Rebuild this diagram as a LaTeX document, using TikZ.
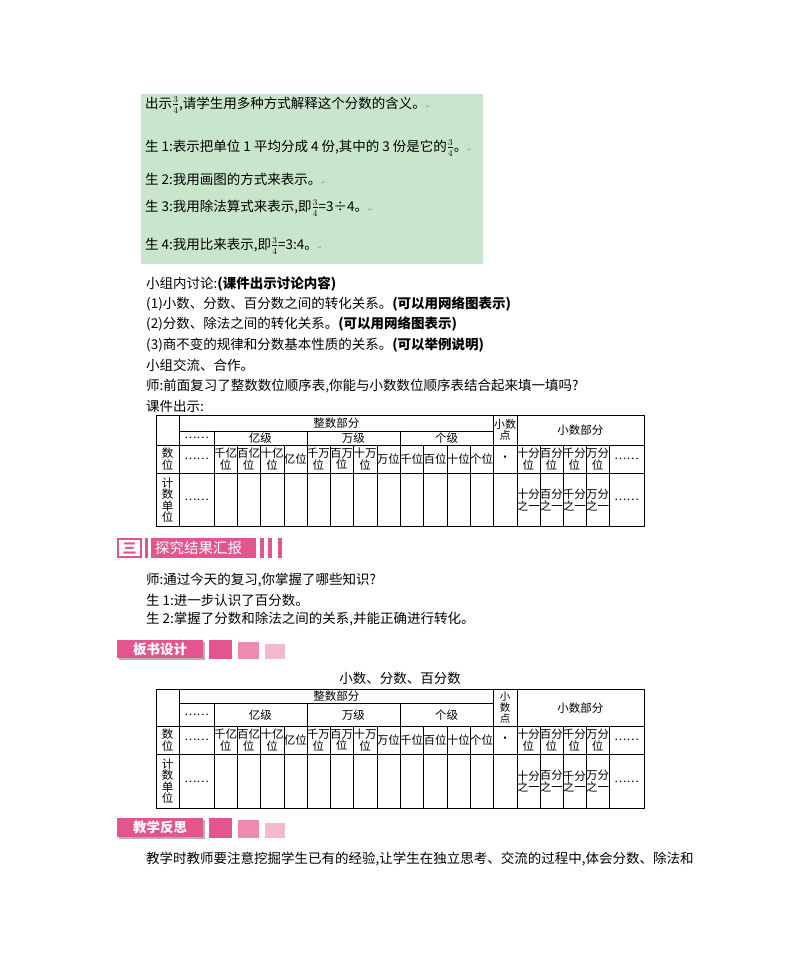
\documentclass[tikz,border=0pt]{standalone}
\usepackage{fontspec}
\setmainfont{Noto Sans CJK SC}
\newfontfamily\djfont{DejaVu Sans}
\definecolor{gbox}{HTML}{C9E5CB}
\definecolor{pk}{HTML}{E2558E}
\definecolor{pkm}{HTML}{EC8AB0}
\definecolor{pkl}{HTML}{F4B9CF}
\newcommand\pvtab[5]{%
 \draw[line width=0.8pt] (156,#1) rectangle (644,#5);
 \draw (179.3,#2) -- (493.3,#2);
 \draw (156,#3) -- (644,#3); \draw (156,#4) -- (644,#4);
 \foreach \x in {179.3,493.3,516.7} \draw (\x,#1) -- (\x,#5);
 \foreach \x in {214,306.7,400} \draw (\x,#2) -- (\x,#5);
 \foreach \x in {237.3,260,284,330,353.3,376.7,423.3,446.7,470,540,562.7,586,609.3} \draw (\x,#3) -- (\x,#5);
 \pgfmathsetmacro\ra{(#1+#2)/2}\pgfmathsetmacro\rb{(#2+#3)/2}
 \pgfmathsetmacro\rc{(#3+#4)/2}\pgfmathsetmacro\rd{(#4+#5)/2}
 \pgfmathsetmacro\rab{(#1+#3)/2}
 \node[tc] at (336.3,\ra) {整数部分};
 \node[tc] at (196.6,\rb) {……};
 \node[tc] at (260.3,\rb) {亿级};
 \node[tc] at (353.3,\rb) {万级};
 \node[tc] at (446.7,\rb) {个级};
 \node[tc] at (580.3,\rab) {小数部分};
 \node[tc] at (167.6,\rc) {数\\位};
 \node[tc] at (196.6,\rc) {……};
 \foreach \x/\t in {225.6/千亿,248.6/百亿,272/十亿,318.3/千万,341.6/百万,365/十万,528.3/十分,551.3/百分,574.3/千分,597.6/万分}
   \node[tc] at (\x,\rc) {\t\\位};
 \foreach \x/\t in {295.3/亿位,388.3/万位,411.6/千位,435/百位,458.3/十位,481.6/个位}
   \node[tc] at (\x,\rc) {\t};
 \node[tc] at (505,\rc) {·};
 \node[tc] at (626.6,\rc) {……};
 \node[tc] at (167.6,\rd) {计\\数\\单\\位};
 \node[tc] at (196.6,\rd) {……};
 \foreach \x/\t in {528.3/十分,551.3/百分,574.3/千分,597.6/万分}
   \node[tc] at (\x,\rd) {\t\\之一};
 \node[tc] at (626.6,\rd) {……};
}
\begin{document}
\begin{tikzpicture}[x=1pt,y=-1pt,
 txt/.style={anchor=west,inner sep=0,font=\fontsize{13.5}{15}\selectfont},
 gtxt/.style={anchor=west,inner sep=0,font=\fontsize{13.5}{15}\selectfont},
 tc/.style={inner sep=0,font=\fontsize{11.5}{11.5}\selectfont,align=center}]
\useasboundingbox (0,0) rectangle (800,977);
% green box
\fill[gbox] (141,94) rectangle (483,264);
\node[gtxt] (g1) at (145,105) {出示$\frac{3}{4}$,请学生用多种方式解释这个分数的含义。{\djfont\color{gray}\tiny ↵}};
\node[gtxt] (g2) at (145,148) {生 1:表示把单位 1 平均分成 4 份,其中的 3 份是它的$\frac{3}{4}$。{\djfont\color{gray}\tiny ↵}};
\node[gtxt] (g3) at (145,179) {生 2:我用画图的方式来表示。{\djfont\color{gray}\tiny ↵}};
\node[gtxt] (g4) at (145,208) {生 3:我用除法算式来表示,即$\frac{3}{4}$=3÷4。{\djfont\color{gray}\tiny ↵}};
\node[gtxt] (g5) at (145,246) {生 4:我用比来表示,即$\frac{3}{4}$=3:4。{\djfont\color{gray}\tiny ↵}};
% text lines
\node[txt] (t1) at (146,284) {小组内讨论:\textbf{(课件出示讨论内容)}};
\node[txt] (t2) at (146,304) {(1)小数、分数、百分数之间的转化关系。\textbf{(可以用网络图表示)}};
\node[txt] (t3) at (146,324) {(2)分数、除法之间的转化关系。\textbf{(可以用网络图表示)}};
\node[txt] (t4) at (146,345) {(3)商不变的规律和分数基本性质的关系。\textbf{(可以举例说明)}};
\node[txt] (t5) at (146,365) {小组交流、合作。};
\node[txt] (t6) at (146,386) {师:前面复习了整数数位顺序表,你能与小数数位顺序表结合起来填一填吗?};
\node[txt] (t7) at (146,406) {课件出示:};
\pvtab{415}{430.7}{445}{473.3}{526.7}
\node[tc,font=\fontsize{11}{10}\selectfont] at (505,430) {小数\\点};
% section header 三
\draw[pk,line width=1.5pt,fill=white] (118,539) rectangle (141,557);
\node[inner sep=0,text=pk,font=\bfseries\fontsize{14}{14}\selectfont] (san) at (129.5,548) {三};
\fill[pk] (145,538) rectangle (148,558);
\fill[pk] (151,538) rectangle (256,558);
\node[inner sep=0,text=white,font=\fontsize{14.5}{14}\selectfont,anchor=west] (h1) at (155,548) {探究结果汇报};
\foreach \x in {260,268,278} \fill[pk] (\x,538) rectangle (\x+4,558);
\node[txt] (u1) at (146,580) {师:通过今天的复习,你掌握了哪些知识?};
\node[txt] (u2) at (146,600) {生 1:进一步认识了百分数。};
\node[txt] (u3) at (146,619) {生 2:掌握了分数和除法之间的关系,并能正确进行转化。};
% 板书设计
\fill[gray!60] (119,642) rectangle (205,660);
\fill[pk] (117,640) rectangle (203,658);
\node[inner sep=0,text=white,font=\bfseries\fontsize{13.5}{13}\selectfont] (h2) at (160,649) {板书设计};
\fill[pk] (209,640) rectangle (232,659); \fill[pkm] (238,642) rectangle (259,659); \fill[pkl] (265,644) rectangle (285,659);
\node[inner sep=0,font=\fontsize{13.5}{13}\selectfont] (ttl) at (400,678) {小数、分数、百分数};
\pvtab{689.3}{703.3}{726}{754}{808.7}
\node[tc,font=\fontsize{10.5}{11}\selectfont] at (505,707.6) {小\\数\\点};
% 教学反思
\fill[gray!60] (119,820) rectangle (205,839);
\fill[pk] (117,818) rectangle (203,837);
\node[inner sep=0,text=white,font=\bfseries\fontsize{13.5}{13}\selectfont] (h3) at (160,827.5) {教学反思};
\fill[pk] (209,818) rectangle (232,838); \fill[pkm] (238,820) rectangle (259,838); \fill[pkl] (265,823) rectangle (285,838);
\node[txt] (w1) at (146,859) {教学时教师要注意挖掘学生已有的经验,让学生在独立思考、交流的过程中,体会分数、除法和};
\end{tikzpicture}
\end{document}
